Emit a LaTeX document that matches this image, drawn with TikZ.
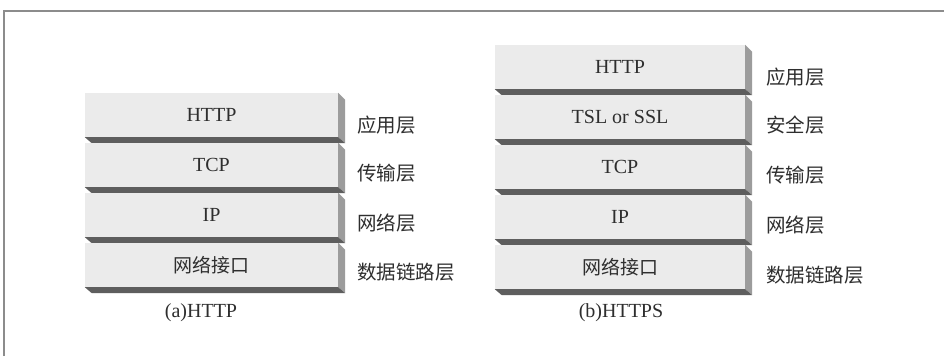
\documentclass[tikz,border=0pt]{standalone}
\usepackage{fontspec}
\setmainfont{Liberation Serif}
\newfontfamily\cjk{Noto Sans CJK SC}
\usetikzlibrary{calc}
\definecolor{facec}{HTML}{EBEBEB}
\definecolor{sidec}{HTML}{9C9C9C}
\definecolor{stripc}{HTML}{5E5E5E}
\definecolor{txtc}{HTML}{2E2E2E}
\tikzset{
  face/.style={fill=facec, minimum height=44pt, inner sep=0pt, text=txtc,
    font=\fontsize{20}{24}\selectfont},
  lbl/.style={anchor=west, inner sep=0pt, text=txtc, font=\cjk\fontsize{19.5}{24}\selectfont},
  captxt/.style={inner sep=0pt, text=txtc, font=\fontsize{20}{24}\selectfont},
  frame/.style={draw=black!45, line width=1.2pt}
}
\newcommand\stacklayer[5]{%
  \node[face, minimum width=#5] (#1) at (#2,#3+22) {#4};
  \fill[sidec] (#1.north east) -- ($(#1.north east)+(7,7)$) -- ($(#1.south east)+(7,6)$) -- (#1.south east) -- cycle;
  \fill[stripc] (#1.south west) -- (#1.south east) -- ($(#1.south east)+(7,6)$) -- ($(#1.south west)+(7,6)$) -- cycle;
}
\begin{document}
\begin{tikzpicture}[x=1pt,y=-1pt]
\useasboundingbox (0,0) rectangle (944,356);
\fill[white] (0,0) rectangle (944,356);
\draw[frame] (4,356) -- (4,11) -- (944,11);
% (a) HTTP
\stacklayer{a1}{211.5}{93}{HTTP}{253pt}
\stacklayer{a2}{211.5}{143}{TCP}{253pt}
\stacklayer{a3}{211.5}{193}{IP}{253pt}
\stacklayer{a4}{211.5}{243}{\cjk\fontsize{19}{24}\selectfont 网络接口}{253pt}
\node[lbl] (la1) at (357,125) {应用层};
\node[lbl] (la2) at (357,173) {传输层};
\node[lbl] (la3) at (357,223) {网络层};
\node[lbl] (la4) at (357,272) {数据链路层};
\node[captxt] (capa) at (201,313) {(a)HTTP};
% (b) HTTPS
\stacklayer{b1}{620}{45}{HTTP}{250pt}
\stacklayer{b2}{620}{95}{TSL or SSL}{250pt}
\stacklayer{b3}{620}{145}{TCP}{250pt}
\stacklayer{b4}{620}{195}{IP}{250pt}
\stacklayer{b5}{620}{245}{\cjk\fontsize{19}{24}\selectfont 网络接口}{250pt}
\node[lbl] (lb1) at (766,77) {应用层};
\node[lbl] (lb2) at (766,125) {安全层};
\node[lbl] (lb3) at (766,175) {传输层};
\node[lbl] (lb4) at (766,225) {网络层};
\node[lbl] (lb5) at (766,275) {数据链路层};
\node[captxt] (capb) at (621,313) {(b)HTTPS};
\end{tikzpicture}
\end{document}
